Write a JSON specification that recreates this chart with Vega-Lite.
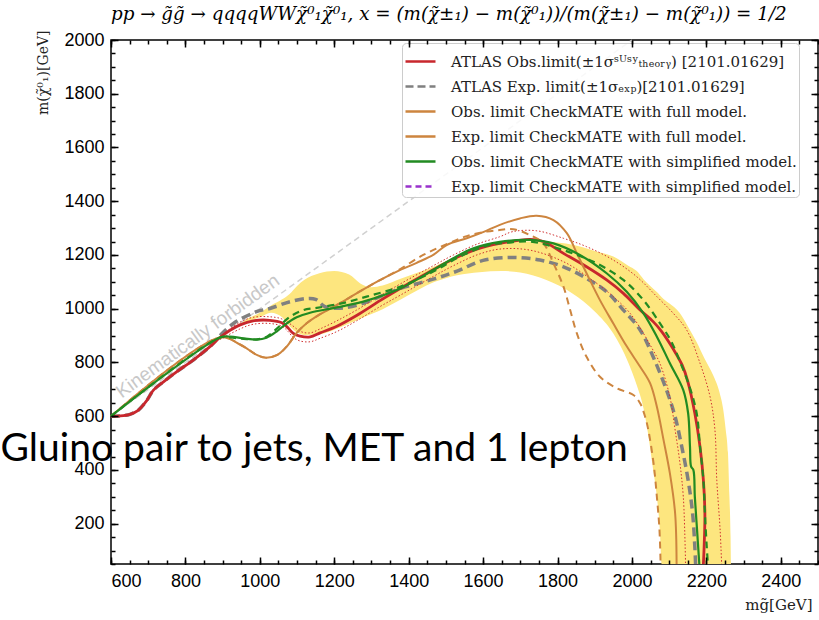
{
  "$schema": "https://vega.github.io/schema/vega-lite/v6.json",
  "width": 707,
  "height": 524,
  "autosize": {"type": "none"},
  "padding": {"left": 111, "top": 40, "right": 1, "bottom": 56},
  "background": "white",
  "title": {
    "text": "pp → g̃g̃ → qqqqWWχ̃⁰₁χ̃⁰₁, x = (m(χ̃±₁) − m(χ̃⁰₁))/(m(χ̃±₁) − m(χ̃⁰₁)) = 1/2",
    "anchor": "start",
    "frame": "group",
    "font": "DejaVu Serif",
    "fontStyle": "italic",
    "fontWeight": "normal",
    "fontSize": 18.3,
    "color": "black",
    "offset": 6
  },
  "config": {
    "view": {"stroke": "black", "strokeWidth": 1.5},
    "axis": {"domain": false, "grid": false, "ticks": true, "labelFont": "Liberation Sans", "labelFontSize": 18, "labelColor": "black", "tickColor": "#000000", "tickOpacity": 1, "tickWidth": 1.5},
    "legend": {
      "orient": "none", "legendX": 291, "legendY": 3, "direction": "vertical",
      "fillColor": "rgba(255,255,255,0.85)", "strokeColor": "#cccccc", "cornerRadius": 4, "padding": 2,
      "symbolType": "stroke", "symbolSize": 900, "symbolStrokeWidth": 2.5,
      "labelFont": "DejaVu Serif", "labelFontSize": 15, "labelColor": "#222222", "labelOffset": 14, "labelLimit": 600, "rowPadding": -4
    }
  },
  "resolve": {"axis": {"x": "independent", "y": "independent"}},
  "datasets": {
    "band": [
      {"x": 935, "lo": 930, "hi": 935}, {"x": 960, "lo": 948, "hi": 958}, {"x": 1000, "lo": 968, "hi": 985},
      {"x": 1030, "lo": 985, "hi": 1012}, {"x": 1060, "lo": 968, "hi": 1035}, {"x": 1080, "lo": 935, "hi": 1055},
      {"x": 1100, "lo": 912, "hi": 1085}, {"x": 1120, "lo": 902, "hi": 1108}, {"x": 1160, "lo": 905, "hi": 1132},
      {"x": 1200, "lo": 922, "hi": 1140}, {"x": 1240, "lo": 945, "hi": 1127}, {"x": 1270, "lo": 963, "hi": 1094},
      {"x": 1300, "lo": 980, "hi": 1080}, {"x": 1330, "lo": 998, "hi": 1086}, {"x": 1380, "lo": 1035, "hi": 1112},
      {"x": 1470, "lo": 1100, "hi": 1158}, {"x": 1530, "lo": 1125, "hi": 1195}, {"x": 1590, "lo": 1136, "hi": 1226},
      {"x": 1650, "lo": 1140, "hi": 1245}, {"x": 1700, "lo": 1135, "hi": 1250}, {"x": 1770, "lo": 1107, "hi": 1249},
      {"x": 1840, "lo": 1057, "hi": 1238}, {"x": 1900, "lo": 990, "hi": 1215}, {"x": 1950, "lo": 908, "hi": 1194},
      {"x": 1990, "lo": 800, "hi": 1160}, {"x": 2013, "lo": 715, "hi": 1140}, {"x": 2031, "lo": 630, "hi": 1110},
      {"x": 2045, "lo": 520, "hi": 1090}, {"x": 2055, "lo": 420, "hi": 1077}, {"x": 2067, "lo": 300, "hi": 1062},
      {"x": 2075, "lo": 176, "hi": 1050}, {"x": 2080, "lo": 50, "hi": 1043}, {"x": 2100, "lo": 50, "hi": 1020},
      {"x": 2128, "lo": 50, "hi": 985}, {"x": 2150, "lo": 50, "hi": 935}, {"x": 2173, "lo": 50, "hi": 878},
      {"x": 2195, "lo": 50, "hi": 815}, {"x": 2218, "lo": 50, "hi": 753}, {"x": 2235, "lo": 50, "hi": 690},
      {"x": 2245, "lo": 50, "hi": 628}, {"x": 2252, "lo": 50, "hi": 550}, {"x": 2258, "lo": 50, "hi": 465},
      {"x": 2262, "lo": 50, "hi": 300}, {"x": 2265, "lo": 50, "hi": 152}, {"x": 2266, "lo": 50, "hi": 50}
    ],
    "diag": [{"x": 600, "y": 600}, {"x": 2000, "y": 2000}],
    "atlas_obs": [
      {"x": 600, "y": 600}, {"x": 624, "y": 601}, {"x": 651, "y": 607}, {"x": 673, "y": 622}, {"x": 696, "y": 658},
      {"x": 714, "y": 697}, {"x": 741, "y": 728}, {"x": 777, "y": 766}, {"x": 821, "y": 809}, {"x": 866, "y": 859},
      {"x": 893, "y": 893}, {"x": 920, "y": 920}, {"x": 947, "y": 940}, {"x": 982, "y": 955}, {"x": 1027, "y": 957},
      {"x": 1059, "y": 948}, {"x": 1076, "y": 928}, {"x": 1090, "y": 908}, {"x": 1108, "y": 898}, {"x": 1135, "y": 895},
      {"x": 1162, "y": 910}, {"x": 1207, "y": 935}, {"x": 1260, "y": 975}, {"x": 1323, "y": 1030}, {"x": 1377, "y": 1075},
      {"x": 1466, "y": 1145}, {"x": 1520, "y": 1185}, {"x": 1583, "y": 1222}, {"x": 1645, "y": 1243}, {"x": 1726, "y": 1258},
      {"x": 1762, "y": 1250}, {"x": 1816, "y": 1206}, {"x": 1878, "y": 1156}, {"x": 1932, "y": 1107}, {"x": 1977, "y": 1057},
      {"x": 2022, "y": 995}, {"x": 2057, "y": 952}, {"x": 2080, "y": 915}, {"x": 2111, "y": 850}, {"x": 2135, "y": 790},
      {"x": 2150, "y": 730}, {"x": 2169, "y": 611}, {"x": 2183, "y": 486}, {"x": 2192, "y": 362}, {"x": 2196, "y": 239},
      {"x": 2194, "y": 114}, {"x": 2192, "y": 50}
    ],
    "atlas_obs_up": [
      {"x": 893, "y": 897}, {"x": 947, "y": 950}, {"x": 982, "y": 968}, {"x": 1027, "y": 970}, {"x": 1059, "y": 962},
      {"x": 1085, "y": 940}, {"x": 1110, "y": 915}, {"x": 1135, "y": 910}, {"x": 1162, "y": 925}, {"x": 1207, "y": 955},
      {"x": 1260, "y": 995}, {"x": 1323, "y": 1048}, {"x": 1377, "y": 1092}, {"x": 1466, "y": 1160}, {"x": 1520, "y": 1200},
      {"x": 1583, "y": 1240}, {"x": 1645, "y": 1268}, {"x": 1680, "y": 1287}, {"x": 1744, "y": 1290}, {"x": 1816, "y": 1262},
      {"x": 1878, "y": 1231}, {"x": 1950, "y": 1181}, {"x": 2013, "y": 1119}, {"x": 2067, "y": 1045}, {"x": 2111, "y": 983},
      {"x": 2147, "y": 921}, {"x": 2183, "y": 797}, {"x": 2210, "y": 672}, {"x": 2223, "y": 549}, {"x": 2228, "y": 362},
      {"x": 2237, "y": 176}, {"x": 2241, "y": 50}
    ],
    "atlas_obs_dn": [
      {"x": 893, "y": 885}, {"x": 947, "y": 925}, {"x": 982, "y": 942}, {"x": 1027, "y": 945}, {"x": 1059, "y": 935},
      {"x": 1076, "y": 915}, {"x": 1090, "y": 893}, {"x": 1108, "y": 880}, {"x": 1135, "y": 877}, {"x": 1162, "y": 890},
      {"x": 1207, "y": 915}, {"x": 1260, "y": 955}, {"x": 1323, "y": 1008}, {"x": 1377, "y": 1050}, {"x": 1466, "y": 1120},
      {"x": 1520, "y": 1160}, {"x": 1583, "y": 1200}, {"x": 1645, "y": 1222}, {"x": 1726, "y": 1218}, {"x": 1816, "y": 1175},
      {"x": 1887, "y": 1113}, {"x": 1950, "y": 1045}, {"x": 1995, "y": 983}, {"x": 2031, "y": 908}, {"x": 2055, "y": 850},
      {"x": 2075, "y": 797}, {"x": 2102, "y": 672}, {"x": 2116, "y": 549}, {"x": 2129, "y": 425}, {"x": 2138, "y": 300},
      {"x": 2143, "y": 114}, {"x": 2144, "y": 50}
    ],
    "atlas_exp": [
      {"x": 600, "y": 600}, {"x": 624, "y": 601}, {"x": 651, "y": 607}, {"x": 673, "y": 622}, {"x": 696, "y": 658},
      {"x": 714, "y": 697}, {"x": 741, "y": 728}, {"x": 777, "y": 766}, {"x": 821, "y": 809}, {"x": 866, "y": 859},
      {"x": 893, "y": 900}, {"x": 929, "y": 945}, {"x": 991, "y": 989}, {"x": 1027, "y": 1001}, {"x": 1081, "y": 1026},
      {"x": 1126, "y": 1038}, {"x": 1150, "y": 1035}, {"x": 1175, "y": 1008}, {"x": 1224, "y": 1003}, {"x": 1278, "y": 1020},
      {"x": 1332, "y": 1050}, {"x": 1377, "y": 1075}, {"x": 1466, "y": 1110}, {"x": 1530, "y": 1140}, {"x": 1600, "y": 1180},
      {"x": 1681, "y": 1191}, {"x": 1753, "y": 1181}, {"x": 1816, "y": 1156}, {"x": 1878, "y": 1113}, {"x": 1932, "y": 1063},
      {"x": 1977, "y": 995}, {"x": 2022, "y": 921}, {"x": 2057, "y": 821}, {"x": 2093, "y": 697}, {"x": 2116, "y": 598},
      {"x": 2134, "y": 486}, {"x": 2151, "y": 362}, {"x": 2163, "y": 239}, {"x": 2169, "y": 114}, {"x": 2171, "y": 50}
    ],
    "cm_full_obs": [
      {"x": 600, "y": 600}, {"x": 893, "y": 893}, {"x": 948, "y": 866}, {"x": 992, "y": 828}, {"x": 1015, "y": 818},
      {"x": 1047, "y": 828}, {"x": 1074, "y": 862}, {"x": 1099, "y": 910}, {"x": 1125, "y": 945}, {"x": 1160, "y": 978},
      {"x": 1207, "y": 1014}, {"x": 1260, "y": 1057}, {"x": 1314, "y": 1100}, {"x": 1368, "y": 1138}, {"x": 1420, "y": 1170},
      {"x": 1466, "y": 1200}, {"x": 1502, "y": 1237}, {"x": 1556, "y": 1262}, {"x": 1600, "y": 1285}, {"x": 1645, "y": 1312},
      {"x": 1699, "y": 1336}, {"x": 1744, "y": 1346}, {"x": 1789, "y": 1330}, {"x": 1825, "y": 1281}, {"x": 1852, "y": 1206},
      {"x": 1878, "y": 1132}, {"x": 1914, "y": 1032}, {"x": 1950, "y": 945}, {"x": 1986, "y": 860}, {"x": 2022, "y": 784},
      {"x": 2049, "y": 722}, {"x": 2067, "y": 635}, {"x": 2085, "y": 511}, {"x": 2102, "y": 387}, {"x": 2116, "y": 239},
      {"x": 2120, "y": 50}
    ],
    "cm_full_exp": [
      {"x": 600, "y": 600}, {"x": 893, "y": 893}, {"x": 948, "y": 866}, {"x": 992, "y": 828}, {"x": 1015, "y": 818},
      {"x": 1047, "y": 828}, {"x": 1074, "y": 862}, {"x": 1099, "y": 910}, {"x": 1125, "y": 945}, {"x": 1160, "y": 978},
      {"x": 1207, "y": 1014}, {"x": 1260, "y": 1057}, {"x": 1314, "y": 1100}, {"x": 1368, "y": 1140}, {"x": 1439, "y": 1200},
      {"x": 1502, "y": 1240}, {"x": 1556, "y": 1270}, {"x": 1610, "y": 1287}, {"x": 1645, "y": 1293}, {"x": 1681, "y": 1296},
      {"x": 1726, "y": 1274}, {"x": 1762, "y": 1243}, {"x": 1789, "y": 1169}, {"x": 1816, "y": 1082}, {"x": 1834, "y": 995},
      {"x": 1852, "y": 908}, {"x": 1878, "y": 821}, {"x": 1914, "y": 747}, {"x": 1959, "y": 704}, {"x": 2004, "y": 679},
      {"x": 2022, "y": 648}, {"x": 2035, "y": 600}, {"x": 2044, "y": 549}, {"x": 2058, "y": 425}, {"x": 2067, "y": 300},
      {"x": 2074, "y": 176}, {"x": 2077, "y": 50}
    ],
    "cm_simp_obs": [
      {"x": 600, "y": 600}, {"x": 893, "y": 893}, {"x": 920, "y": 896}, {"x": 956, "y": 890}, {"x": 992, "y": 885},
      {"x": 1018, "y": 892}, {"x": 1045, "y": 915}, {"x": 1072, "y": 945}, {"x": 1099, "y": 968}, {"x": 1135, "y": 985},
      {"x": 1207, "y": 1005}, {"x": 1287, "y": 1030}, {"x": 1377, "y": 1075}, {"x": 1466, "y": 1144}, {"x": 1520, "y": 1188},
      {"x": 1574, "y": 1225}, {"x": 1645, "y": 1249}, {"x": 1726, "y": 1256}, {"x": 1789, "y": 1243}, {"x": 1860, "y": 1200},
      {"x": 1932, "y": 1132}, {"x": 1986, "y": 1063}, {"x": 2031, "y": 983}, {"x": 2067, "y": 896}, {"x": 2102, "y": 797},
      {"x": 2138, "y": 697}, {"x": 2151, "y": 611}, {"x": 2156, "y": 486}, {"x": 2159, "y": 412}, {"x": 2165, "y": 400},
      {"x": 2169, "y": 300}, {"x": 2175, "y": 176}, {"x": 2181, "y": 50}
    ],
    "cm_simp_exp": [
      {"x": 600, "y": 600}, {"x": 893, "y": 893}, {"x": 920, "y": 893}, {"x": 956, "y": 888}, {"x": 992, "y": 886},
      {"x": 1020, "y": 897}, {"x": 1045, "y": 925}, {"x": 1081, "y": 970}, {"x": 1117, "y": 995}, {"x": 1153, "y": 1003},
      {"x": 1220, "y": 1020}, {"x": 1287, "y": 1045}, {"x": 1377, "y": 1082}, {"x": 1466, "y": 1138}, {"x": 1538, "y": 1194},
      {"x": 1610, "y": 1235}, {"x": 1663, "y": 1245}, {"x": 1726, "y": 1250}, {"x": 1816, "y": 1218}, {"x": 1905, "y": 1169},
      {"x": 1977, "y": 1107}, {"x": 2031, "y": 1032}, {"x": 2075, "y": 946}, {"x": 2105, "y": 880}, {"x": 2130, "y": 800},
      {"x": 2156, "y": 705}, {"x": 2174, "y": 611}, {"x": 2183, "y": 486}, {"x": 2192, "y": 362}, {"x": 2196, "y": 239},
      {"x": 2201, "y": 114}, {"x": 2204, "y": 50}
    ],
    "keys": [
      {"series": "ATLAS  Obs.limit(±1σˢᵁˢʸₜₕₑₒᵣᵧ) [2101.01629]"},
      {"series": "ATLAS  Exp. limit(±1σₑₓₚ)[2101.01629]"},
      {"series": "Obs. limit CheckMATE with full model."},
      {"series": "Exp. limit CheckMATE with full model."},
      {"series": "Obs. limit CheckMATE with simplified model."},
      {"series": "Exp. limit CheckMATE with simplified model."}
    ],
    "notes": [
      {"label": "Gluino pair to jets, MET and 1 lepton", "x": 1146, "y": 433}
    ],
    "kin": [
      {"label": "Kinematically forbidden", "x": 833, "y": 898}
    ]
  },
  "layer": [
    {
      "data": {"name": "band"},
      "mark": {"type": "area", "fill": "#fde67f", "interpolate": "monotone"},
      "encoding": {
        "x": {"field": "x", "type": "quantitative", "scale": {"domain": [600, 2500], "nice": false, "zero": false},
              "axis": {"orient": "bottom", "offset": -7, "values": [600, 800, 1000, 1200, 1400, 1600, 1800, 2000, 2200, 2400], "format": "d", "tickSize": 7, "labelPadding": 8, "zindex": 2,
                       "title": "mg̃[GeV]", "titleFont": "DejaVu Serif", "titleFontSize": 15, "titleFontWeight": "normal", "titleColor": "#222222",
                       "titleX": 701, "titleY": 47, "titleAlign": "right", "titleBaseline": "middle", "titleAngle": 0}},
        "y": {"field": "hi", "type": "quantitative", "scale": {"domain": [50, 2000], "nice": false, "zero": false},
              "axis": {"orient": "left", "offset": -7, "values": [200, 400, 600, 800, 1000, 1200, 1400, 1600, 1800, 2000], "format": "d", "tickSize": 7, "labelPadding": 7, "zindex": 2,
                       "title": "m(χ̃⁰₁)[GeV]", "titleFont": "DejaVu Serif", "titleFontSize": 14, "titleFontWeight": "normal", "titleColor": "#222222",
                       "titleX": -75, "titleY": -10, "titleAlign": "right", "titleBaseline": "middle", "titleAngle": -90}},
        "y2": {"field": "lo"}
      }
    },
    {
      "data": {"name": "diag"},
      "mark": {"type": "line", "stroke": "#d0d0d0", "strokeWidth": 1.5, "strokeDash": [6, 4]},
      "encoding": {
        "x": {"field": "x", "type": "quantitative",
              "axis": {"orient": "bottom", "offset": -4, "zindex": 2, "values": [600, 650, 700, 750, 800, 850, 900, 950, 1000, 1050, 1100, 1150, 1200, 1250, 1300, 1350, 1400, 1450, 1500, 1550, 1600, 1650, 1700, 1750, 1800, 1850, 1900, 1950, 2000, 2050, 2100, 2150, 2200, 2250, 2300, 2350, 2400, 2450, 2500], "tickSize": 4, "labels": false, "title": null}},
        "y": {"field": "y", "type": "quantitative",
              "axis": {"orient": "left", "offset": -4, "zindex": 2, "values": [50, 100, 150, 200, 250, 300, 350, 400, 450, 500, 550, 600, 650, 700, 750, 800, 850, 900, 950, 1000, 1050, 1100, 1150, 1200, 1250, 1300, 1350, 1400, 1450, 1500, 1550, 1600, 1650, 1700, 1750, 1800, 1850, 1900, 1950, 2000], "tickSize": 4, "labels": false, "title": null}}
      }
    },
    {
      "data": {"name": "kin"},
      "mark": {"type": "text", "font": "Liberation Sans", "fontSize": 19, "color": "#c8c8c8", "angle": -36, "align": "center", "baseline": "middle"},
      "encoding": {
        "x": {"field": "x", "type": "quantitative", "axis": null},
        "y": {"field": "y", "type": "quantitative", "axis": null},
        "text": {"field": "label"}
      }
    },
    {
      "data": {"name": "atlas_exp"},
      "mark": {"type": "line", "stroke": "#808080", "strokeWidth": 3.5, "strokeDash": [9, 5], "interpolate": "catmull-rom"},
      "encoding": {
        "x": {"field": "x", "type": "quantitative", "axis": null},
        "y": {"field": "y", "type": "quantitative", "axis": null},
        "order": {"value": null}
      }
    },
    {
      "data": {"name": "atlas_obs_dn"},
      "mark": {"type": "line", "stroke": "#d03030", "strokeWidth": 1, "strokeDash": [1.5, 2], "interpolate": "catmull-rom"},
      "encoding": {
        "x": {"field": "x", "type": "quantitative",
              "axis": {"orient": "top", "offset": -7, "zindex": 2, "values": [600, 800, 1000, 1200, 1400, 1600, 1800, 2000, 2200, 2400], "tickSize": 7, "labels": false, "title": null}},
        "y": {"field": "y", "type": "quantitative",
              "axis": {"orient": "right", "offset": -7, "zindex": 2, "values": [200, 400, 600, 800, 1000, 1200, 1400, 1600, 1800, 2000], "tickSize": 7, "labels": false, "title": null}},
        "order": {"value": null}
      }
    },
    {
      "data": {"name": "atlas_obs_up"},
      "mark": {"type": "line", "stroke": "#d03030", "strokeWidth": 1, "strokeDash": [1.5, 2], "interpolate": "catmull-rom"},
      "encoding": {
        "x": {"field": "x", "type": "quantitative",
              "axis": {"orient": "top", "offset": -4, "zindex": 2, "values": [600, 650, 700, 750, 800, 850, 900, 950, 1000, 1050, 1100, 1150, 1200, 1250, 1300, 1350, 1400, 1450, 1500, 1550, 1600, 1650, 1700, 1750, 1800, 1850, 1900, 1950, 2000, 2050, 2100, 2150, 2200, 2250, 2300, 2350, 2400, 2450, 2500], "tickSize": 4, "labels": false, "title": null}},
        "y": {"field": "y", "type": "quantitative",
              "axis": {"orient": "right", "offset": -4, "zindex": 2, "values": [50, 100, 150, 200, 250, 300, 350, 400, 450, 500, 550, 600, 650, 700, 750, 800, 850, 900, 950, 1000, 1050, 1100, 1150, 1200, 1250, 1300, 1350, 1400, 1450, 1500, 1550, 1600, 1650, 1700, 1750, 1800, 1850, 1900, 1950, 2000], "tickSize": 4, "labels": false, "title": null}},
        "order": {"value": null}
      }
    },
    {
      "data": {"name": "atlas_obs"},
      "mark": {"type": "line", "stroke": "#c8272d", "strokeWidth": 2.8, "interpolate": "catmull-rom"},
      "encoding": {
        "x": {"field": "x", "type": "quantitative", "axis": null},
        "y": {"field": "y", "type": "quantitative", "axis": null},
        "order": {"value": null}
      }
    },
    {
      "data": {"name": "cm_full_obs"},
      "mark": {"type": "line", "stroke": "#cd853f", "strokeWidth": 2, "interpolate": "catmull-rom"},
      "encoding": {
        "x": {"field": "x", "type": "quantitative", "axis": null},
        "y": {"field": "y", "type": "quantitative", "axis": null},
        "order": {"value": null}
      }
    },
    {
      "data": {"name": "cm_full_exp"},
      "mark": {"type": "line", "stroke": "#cd853f", "strokeWidth": 2, "strokeDash": [7, 5], "interpolate": "catmull-rom"},
      "encoding": {
        "x": {"field": "x", "type": "quantitative", "axis": null},
        "y": {"field": "y", "type": "quantitative", "axis": null},
        "order": {"value": null}
      }
    },
    {
      "data": {"name": "cm_simp_obs"},
      "mark": {"type": "line", "stroke": "#228b22", "strokeWidth": 2.2, "interpolate": "catmull-rom"},
      "encoding": {
        "x": {"field": "x", "type": "quantitative", "axis": null},
        "y": {"field": "y", "type": "quantitative", "axis": null},
        "order": {"value": null}
      }
    },
    {
      "data": {"name": "cm_simp_exp"},
      "mark": {"type": "line", "stroke": "#228b22", "strokeWidth": 2.2, "strokeDash": [7, 5], "interpolate": "catmull-rom"},
      "encoding": {
        "x": {"field": "x", "type": "quantitative", "axis": null},
        "y": {"field": "y", "type": "quantitative", "axis": null},
        "order": {"value": null}
      }
    },
    {
      "data": {"name": "keys"},
      "mark": {"type": "line", "opacity": 0},
      "encoding": {
        "x": {"value": 0},
        "y": {"value": 0},
        "color": {"field": "series", "type": "nominal", "title": null,
                  "scale": {"domain": ["ATLAS  Obs.limit(±1σˢᵁˢʸₜₕₑₒᵣᵧ) [2101.01629]", "ATLAS  Exp. limit(±1σₑₓₚ)[2101.01629]", "Obs. limit CheckMATE with full model.", "Exp. limit CheckMATE with full model.", "Obs. limit CheckMATE with simplified model.", "Exp. limit CheckMATE with simplified model."],
                            "range": ["#c8272d", "#808080", "#cd853f", "#cd853f", "#228b22", "#9932cc"]}},
        "strokeDash": {"field": "series", "type": "nominal", "title": null,
                  "scale": {"domain": ["ATLAS  Obs.limit(±1σˢᵁˢʸₜₕₑₒᵣᵧ) [2101.01629]", "ATLAS  Exp. limit(±1σₑₓₚ)[2101.01629]", "Obs. limit CheckMATE with full model.", "Exp. limit CheckMATE with full model.", "Obs. limit CheckMATE with simplified model.", "Exp. limit CheckMATE with simplified model."],
                            "range": [[1, 0], [8, 4], [1, 0], [1, 0], [1, 0], [6, 4]]}}
      }
    },
    {
      "data": {"name": "notes"},
      "mark": {"type": "text", "font": "Lato", "fontSize": 39, "color": "black", "align": "center", "baseline": "alphabetic"},
      "encoding": {
        "x": {"field": "x", "type": "quantitative", "axis": null},
        "y": {"field": "y", "type": "quantitative", "axis": null},
        "text": {"field": "label"}
      }
    }
  ]
}
